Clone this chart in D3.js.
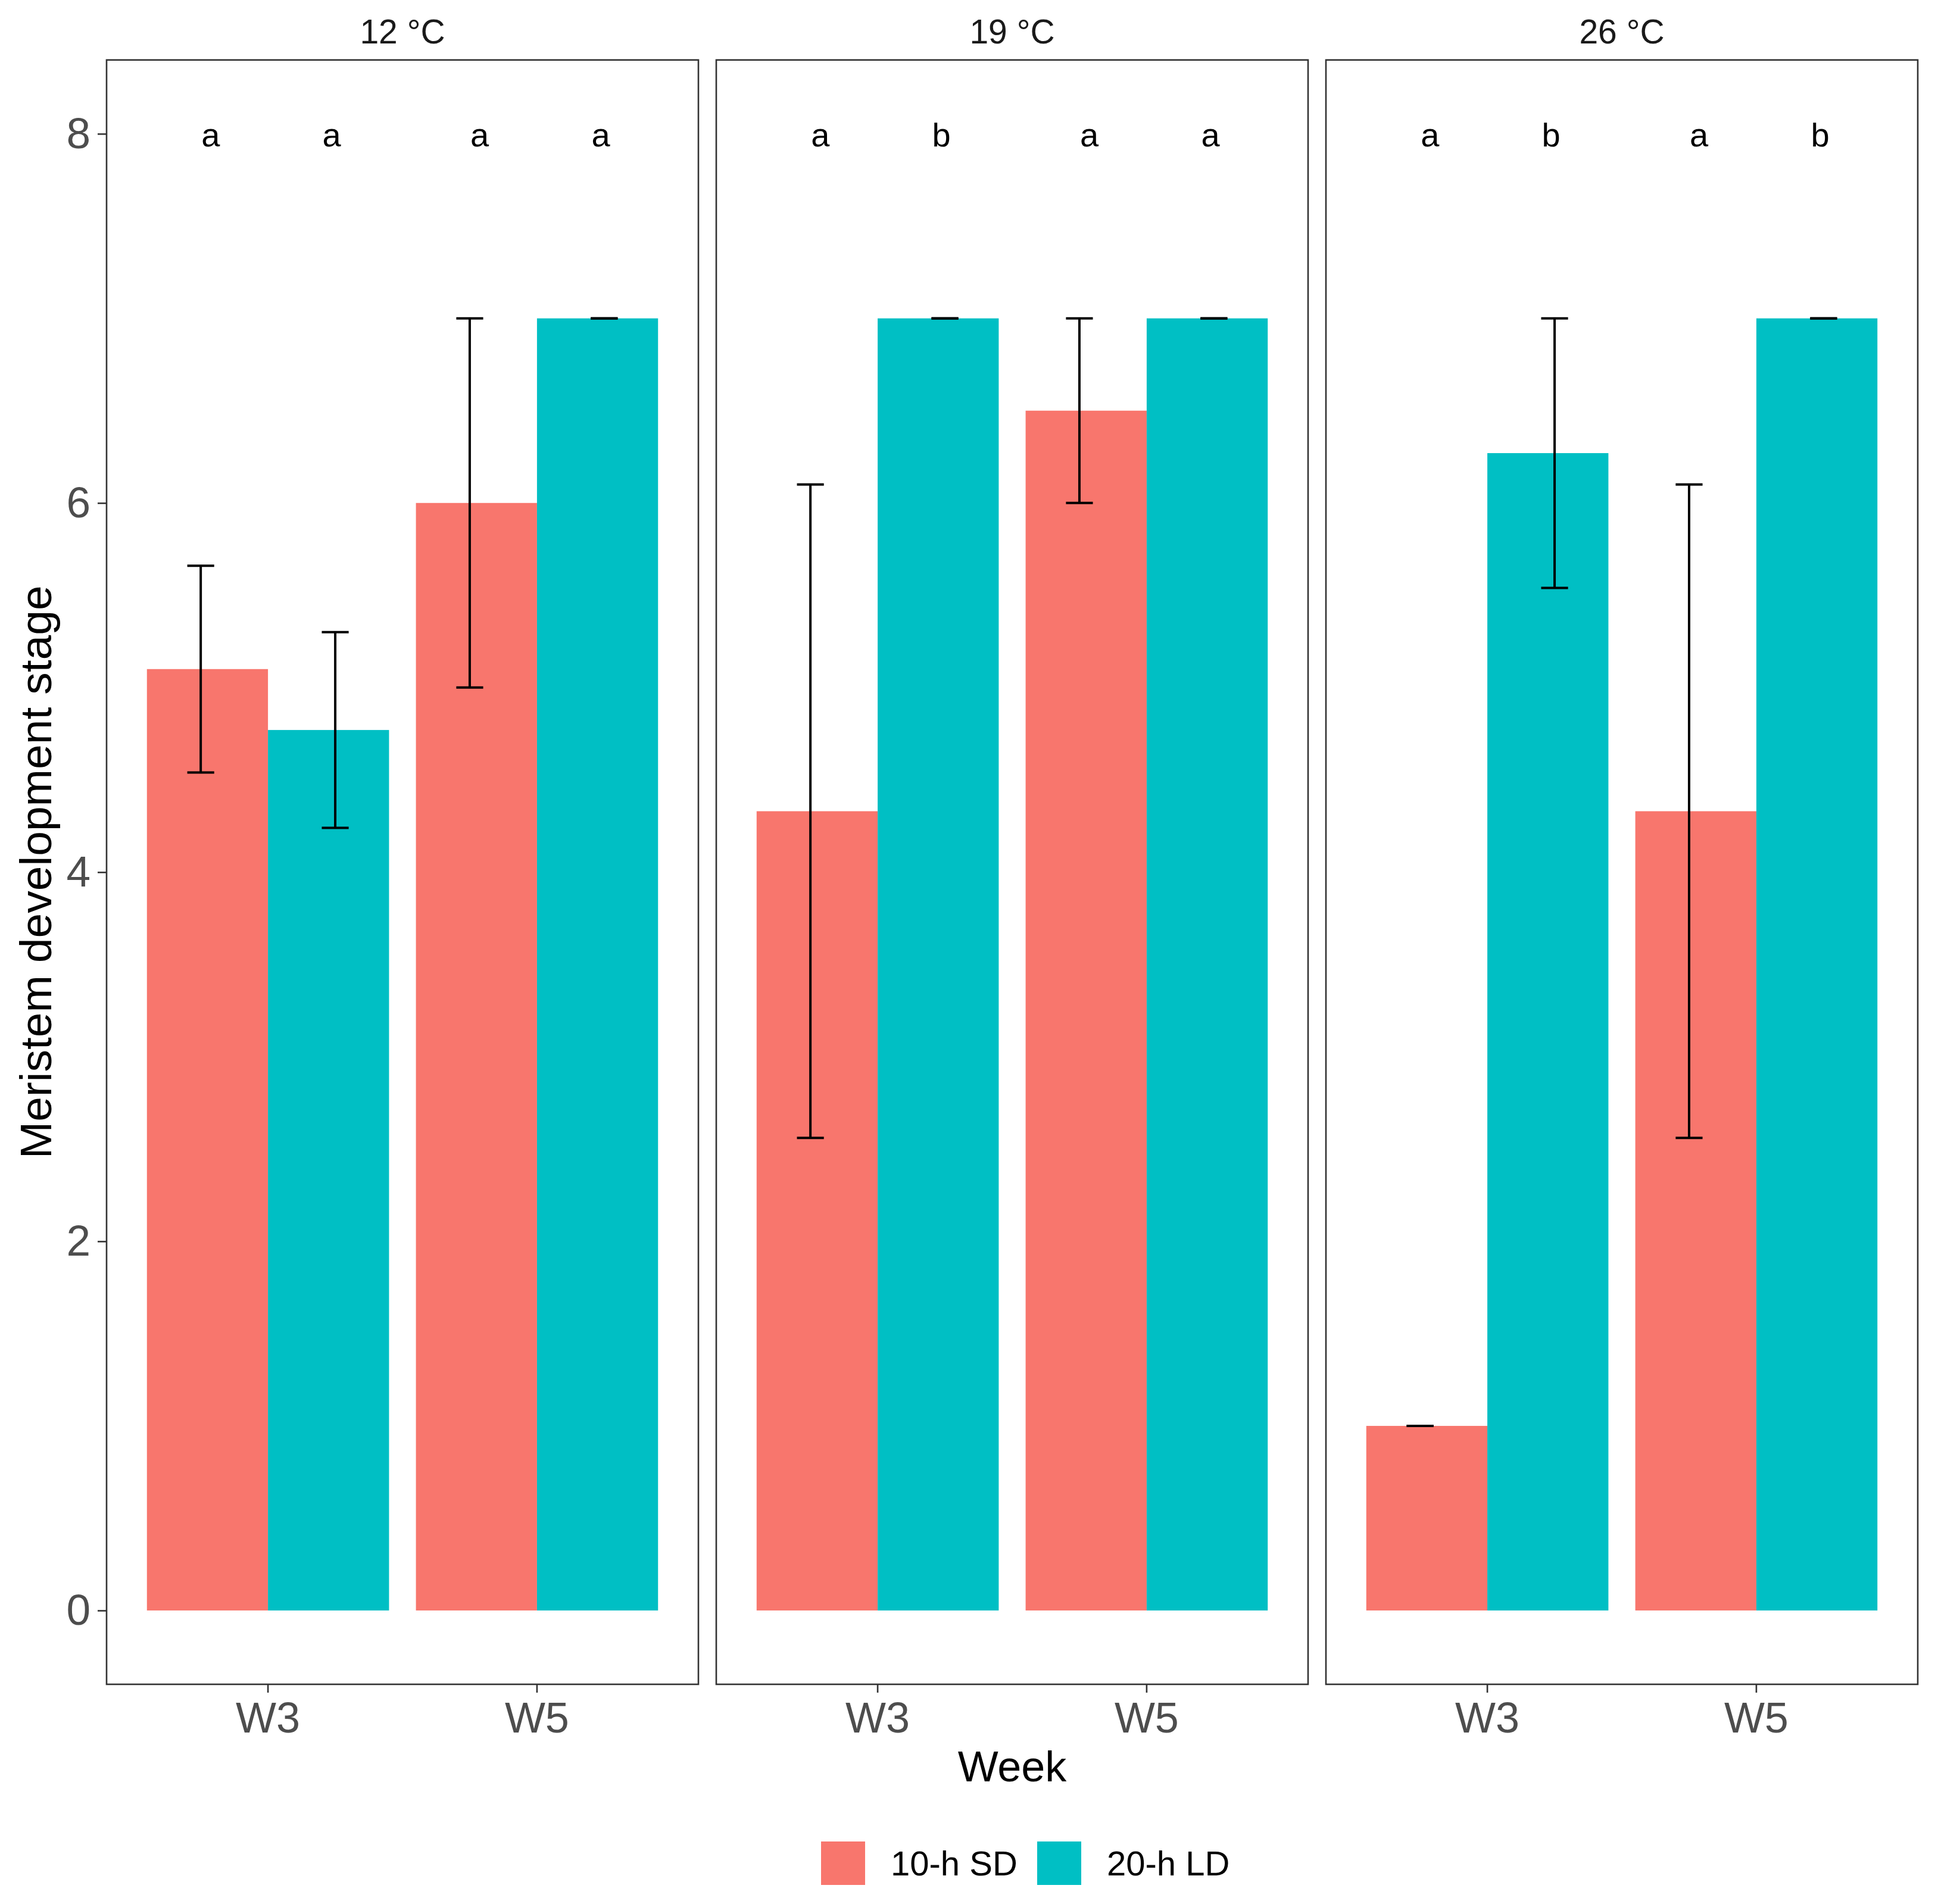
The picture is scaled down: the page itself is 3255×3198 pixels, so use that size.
<!DOCTYPE html>
<html>
<head>
<meta charset="utf-8">
<script src="https://cdn.jsdelivr.net/npm/d3@7"></script>
<style>
  body { margin: 0; background: #fff; }
  svg { display: block; font-family: "Liberation Sans", Arial, sans-serif; }
</style>
</head>
<body>
<svg width="3255" height="3198"></svg>
<script>
// ---------- data ----------
const temps = ["12 °C", "19 °C", "26 °C"];
const weeks = ["W3", "W5"];
const photoperiods = ["10-h SD", "20-h LD"];

// mean stage per temperature, per week  [W3, W5]
const sdMean = [[5.10, 6.00], [4.33, 6.50], [1.00, 4.33]];
const ldMean = [[4.77, 7.00], [7.00, 7.00], [6.27, 7.00]];
// error half-widths
const sdErr = [[0.56, 1.00], [1.77, 0.50], [0.00, 1.77]];
const ldErr = [[0.53, 0.00], [0.00, 0.00], [0.73, 0.00]];

// significance letters: W3 SD, W3 LD, W5 SD, W5 LD
const letters = [["a", "a", "a", "a"], ["a", "b", "a", "a"], ["a", "b", "a", "b"]];

const yTicks = [0, 2, 4, 6, 8];
const colors = ["#F8766D", "#00BFC4"];

// ---------- build long table ----------
let rows = [];
temps.forEach((t, ti) => {
  weeks.forEach((w, wi) => {
    rows.push({ temp: t, week: w, period: photoperiods[0], mean: sdMean[ti][wi], err: sdErr[ti][wi], letter: letters[ti][wi * 2] });
    rows.push({ temp: t, week: w, period: photoperiods[1], mean: ldMean[ti][wi], err: ldErr[ti][wi], letter: letters[ti][wi * 2 + 1] });
  });
});

// ---------- layout ----------
const svg = d3.select("svg");
const plotLeft = 179, plotRight = 3221, plotTop = 100.7, plotBottom = 2829;
const panelGap = 30;

const panelX = d3.scaleBand()
  .domain(temps)
  .range([plotLeft, plotRight + panelGap]);
const panelW = panelX.bandwidth() - panelGap;

const x = d3.scaleBand()
  .domain(weeks)
  .range([0, panelW])
  .paddingInner(0.1)
  .paddingOuter(0.15);

const xInner = d3.scaleBand()
  .domain(photoperiods)
  .range([0, x.bandwidth()]);

const y = d3.scaleLinear()
  .domain([-0.4, 8.4])
  .range([plotBottom, plotTop]);

const step = x.step();
const errDodge = d3.scaleOrdinal().domain(photoperiods).range([-0.25 * step, 0.25 * step]);
const letterDodge = d3.scaleOrdinal().domain(photoperiods).range([-0.213 * step, 0.237 * step]);
const capW = 0.1 * step;

// ---------- panels ----------
temps.forEach((t, ti) => {
  const g = svg.append("g")
    .attr("transform", `translate(${panelX(t)},0)`);

  const data = rows.filter(d => d.temp === t);

  // bars
  g.selectAll("rect.bar")
    .data(data)
    .enter()
    .append("rect")
    .attr("class", "bar")
    .attr("x", d => x(d.week) + xInner(d.period))
    .attr("width", xInner.bandwidth())
    .attr("y", d => y(d.mean))
    .attr("height", d => y(0) - y(d.mean))
    .attr("fill", d => colors[photoperiods.indexOf(d.period)]);

  // error bars
  const eb = g.selectAll("g.err")
    .data(data)
    .enter()
    .append("g")
    .attr("class", "err")
    .attr("transform", d => `translate(${x(d.week) + x.bandwidth() / 2 + errDodge(d.period)},0)`)
    .attr("stroke", "#000")
    .attr("stroke-width", 4);

  eb.append("line")
    .attr("x1", 0).attr("x2", 0)
    .attr("y1", d => y(d.mean + d.err))
    .attr("y2", d => y(d.mean - d.err));
  eb.append("line")
    .attr("x1", -capW / 2).attr("x2", capW / 2)
    .attr("y1", d => y(d.mean + d.err))
    .attr("y2", d => y(d.mean + d.err));
  eb.append("line")
    .attr("x1", -capW / 2).attr("x2", capW / 2)
    .attr("y1", d => y(d.mean - d.err))
    .attr("y2", d => y(d.mean - d.err));

  // letters
  g.selectAll("text.letter")
    .data(data)
    .enter()
    .append("text")
    .attr("class", "letter")
    .attr("x", d => x(d.week) + x.bandwidth() / 2 + letterDodge(d.period))
    .attr("y", y(8) + 21)
    .attr("text-anchor", "middle")
    .attr("font-size", 56)
    .attr("fill", "#000")
    .text(d => d.letter);

  // panel border
  g.append("rect")
    .attr("x", 0).attr("y", plotTop)
    .attr("width", panelW).attr("height", plotBottom - plotTop)
    .attr("fill", "none")
    .attr("stroke", "#333")
    .attr("stroke-width", 2.6);

  // strip label
  g.append("text")
    .attr("x", panelW / 2)
    .attr("y", 73)
    .attr("text-anchor", "middle")
    .attr("font-size", 57)
    .attr("fill", "#1a1a1a")
    .text(t);

  // x axis
  const xAxis = g.append("g")
    .attr("transform", `translate(0,${plotBottom})`)
    .call(d3.axisBottom(x).tickSize(14).tickPadding(16));
  xAxis.select(".domain").remove();
  xAxis.selectAll("line").attr("stroke", "#333").attr("stroke-width", 2.6);
  xAxis.selectAll("text")
    .attr("font-size", 72)
    .attr("fill", "#4d4d4d")
    .attr("font-family", "Liberation Sans, Arial, sans-serif");

  // y axis on first panel only
  if (ti === 0) {
    const yAxis = g.append("g")
      .call(d3.axisLeft(y).tickValues(yTicks).tickSize(15).tickPadding(12));
    yAxis.select(".domain").remove();
    yAxis.selectAll("line").attr("stroke", "#333").attr("stroke-width", 2.6);
    yAxis.selectAll("text")
      .attr("font-size", 73)
      .attr("fill", "#4d4d4d")
      .attr("font-family", "Liberation Sans, Arial, sans-serif");
  }
});

// ---------- axis titles ----------
svg.append("text")
  .attr("x", (plotLeft + plotRight) / 2)
  .attr("y", 2992)
  .attr("text-anchor", "middle")
  .attr("font-size", 72)
  .attr("fill", "#000")
  .text("Week");

svg.append("text")
  .attr("transform", `translate(86,${(plotTop + plotBottom) / 2}) rotate(-90)`)
  .attr("text-anchor", "middle")
  .attr("font-size", 75)
  .attr("fill", "#000")
  .text("Meristem development stage");

// ---------- legend ----------
const legendX = [1379, 1742];
const legend = svg.selectAll("g.legend")
  .data(photoperiods)
  .enter()
  .append("g")
  .attr("class", "legend")
  .attr("transform", (d, i) => `translate(${legendX[i]},3093)`);

legend.append("rect")
  .attr("width", 74)
  .attr("height", 73)
  .attr("fill", (d, i) => colors[i]);

legend.append("text")
  .attr("x", 117)
  .attr("y", 57)
  .attr("font-size", 58)
  .attr("fill", "#000")
  .text(d => d);
</script>
</body>
</html>
